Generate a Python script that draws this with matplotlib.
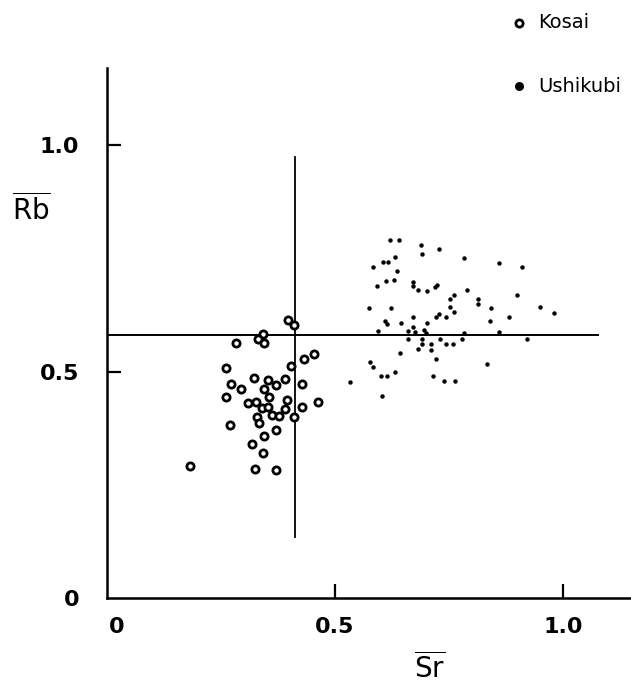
import matplotlib
matplotlib.use("Agg")
import matplotlib.pyplot as plt
import matplotlib.transforms as mtransforms

# Kosai (open circles): Sr, Rb
kosai_sr = [0.398, 0.411, 0.343, 0.332, 0.345, 0.282, 0.454, 0.432, 0.403, 0.261,
            0.322, 0.352, 0.391, 0.272, 0.370, 0.428, 0.293, 0.345, 0.261, 0.355,
            0.309, 0.327, 0.394, 0.462, 0.340, 0.353, 0.391, 0.427, 0.361, 0.378,
            0.328, 0.410, 0.334, 0.270, 0.370, 0.344, 0.319, 0.343, 0.182, 0.325,
            0.371]
kosai_rb = [0.614, 0.603, 0.582, 0.572, 0.564, 0.563, 0.539, 0.528, 0.512, 0.508,
            0.485, 0.481, 0.483, 0.473, 0.471, 0.472, 0.461, 0.461, 0.444, 0.444,
            0.431, 0.433, 0.437, 0.433, 0.419, 0.422, 0.417, 0.422, 0.404, 0.402,
            0.400, 0.400, 0.386, 0.383, 0.371, 0.358, 0.340, 0.319, 0.291, 0.285,
            0.283]

# Ushikubi (filled dots): Sr, Rb
ushikubi_sr = [0.621, 0.641, 0.689, 0.691, 0.729, 0.782, 0.860, 0.910, 0.583, 0.605,
               0.617, 0.632, 0.635, 0.593, 0.612, 0.630, 0.670, 0.670, 0.681, 0.702,
               0.719, 0.724, 0.789, 0.752, 0.762, 0.813, 0.813, 0.900, 0.950, 0.980,
               0.575, 0.622, 0.752, 0.762, 0.842, 0.729, 0.721, 0.743, 0.672, 0.882,
               0.840, 0.610, 0.613, 0.644, 0.701, 0.671, 0.595, 0.661, 0.675, 0.696,
               0.700, 0.782, 0.860, 0.661, 0.690, 0.730, 0.779, 0.922, 0.691, 0.711,
               0.743, 0.759, 0.681, 0.711, 0.643, 0.722, 0.577, 0.584, 0.632, 0.833,
               0.600, 0.613, 0.716, 0.739, 0.763, 0.532, 0.602]
ushikubi_rb = [0.790, 0.790, 0.779, 0.759, 0.770, 0.751, 0.740, 0.730, 0.730, 0.741,
               0.741, 0.753, 0.722, 0.689, 0.700, 0.701, 0.698, 0.689, 0.681, 0.678,
               0.686, 0.692, 0.681, 0.660, 0.669, 0.660, 0.649, 0.669, 0.642, 0.630,
               0.640, 0.640, 0.642, 0.631, 0.640, 0.628, 0.620, 0.620, 0.620, 0.620,
               0.612, 0.612, 0.604, 0.608, 0.608, 0.599, 0.590, 0.589, 0.588, 0.592,
               0.584, 0.584, 0.588, 0.571, 0.571, 0.572, 0.571, 0.571, 0.560, 0.561,
               0.560, 0.561, 0.550, 0.547, 0.541, 0.528, 0.522, 0.509, 0.500, 0.516,
               0.489, 0.489, 0.490, 0.479, 0.478, 0.477, 0.447]

# reference lines
sr_line = 0.412          # vertical
sr_line_span = (0.135, 0.973)
rb_line = 0.581          # horizontal
rb_line_span = (0.0, 1.077)

x_ticks = [0, 0.5, 1.0]
x_tick_labels = ["0", "0.5", "1.0"]
y_ticks = [0, 0.5, 1.0]
y_tick_labels = ["0", "0.5", "1.0"]

plt.rcParams["font.family"] = "DejaVu Sans"
plt.rcParams["mathtext.default"] = "regular"

fig = plt.figure(figsize=(6.31, 6.84), dpi=100)
fig.patch.set_facecolor("white")
ax = fig.add_axes([107 / 631, 86 / 684, 524 / 631, 530 / 684])
ax.set_xlim(0, 524 / 456)
ax.set_ylim(0, 530 / 453)

ax.plot([sr_line, sr_line], sr_line_span, color="black", lw=1.3, zorder=1)
ax.plot(rb_line_span, [rb_line, rb_line], color="black", lw=1.4, zorder=1)

ax.plot(kosai_sr, kosai_rb, "o", ms=5.2, mfc="white", mec="black", mew=2.0,
        zorder=3, clip_on=False)
ax.plot(ushikubi_sr, ushikubi_rb, "o", ms=3.2, color="black", mew=0,
        zorder=3, clip_on=False)

for side in ("top", "right"):
    ax.spines[side].set_visible(False)
for side in ("left", "bottom"):
    ax.spines[side].set_linewidth(1.8)

ax.set_xticks(x_ticks)
ax.set_xticklabels(x_tick_labels, fontsize=16, fontweight="bold")
ax.set_yticks(y_ticks)
ax.set_yticklabels(y_tick_labels, fontsize=16, fontweight="bold")
ax.tick_params(axis="both", direction="in", length=10, width=1.6, color="black")
ax.tick_params(axis="x", pad=14)
ax.tick_params(axis="y", pad=20)
# no tick marks at the origin, only the "0" labels
ax.xaxis.get_major_ticks()[0].tick1line.set_visible(False)
ax.yaxis.get_major_ticks()[0].tick1line.set_visible(False)

# the "0" on the x axis sits a little right of the origin
shift = mtransforms.ScaledTranslation(10 / 100, 0, fig.dpi_scale_trans)
lbl0 = ax.get_xticklabels()[0]
lbl0.set_transform(lbl0.get_transform() + shift)

fig.text(31 / 631, 1 - 210 / 684, r"$\overline{Rb}$", fontsize=20,
         ha="center", va="center")
fig.text(430 / 631, 1 - 668 / 684, r"$\overline{Sr}$", fontsize=20,
         ha="center", va="center")

# legend drawn by hand, top right
leg_x, txt_x = 519 / 631, 538 / 631
fig.lines.append(plt.Line2D([leg_x], [1 - 23 / 684], transform=fig.transFigure,
                            marker="o", ms=5.2, mfc="white", mec="black", mew=2.0))
fig.lines.append(plt.Line2D([leg_x], [1 - 86 / 684], transform=fig.transFigure,
                            marker="o", ms=6.5, color="black", mew=0))
fig.text(txt_x, 1 - 23 / 684, "Kosai", fontsize=14, va="center", ha="left")
fig.text(txt_x, 1 - 86 / 684, "Ushikubi", fontsize=14, va="center", ha="left")

fig.savefig("out.png", dpi=100, facecolor="white")
